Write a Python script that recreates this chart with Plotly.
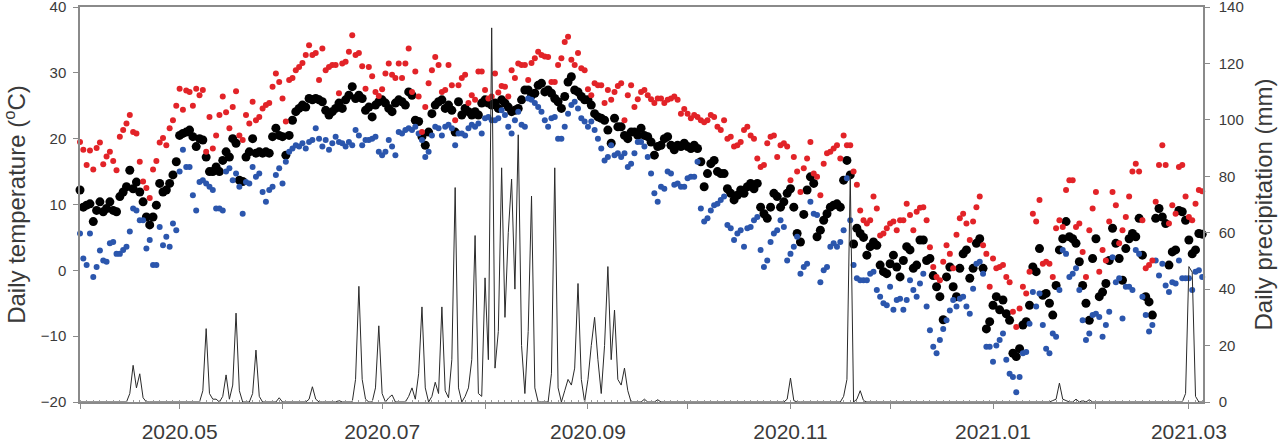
import plotly.graph_objects as go
import pandas as pd

# ---------------- data (daily, 2020-04-01 .. 2021-03-05) ----------------
start_date = "2020-04-01"
n_days = 339

tmax = [
    19.5, 18.3, 16.0, 18.2, 15.3, 18.6, 19.4, 16.1, 17.3, 18.0, 16.6, 15.2, 20.3, 21.3, 22.3, 23.6, 21.0, 20.8, 16.5, 13.5,
    12.5, 11.0, 15.3, 16.6, 19.4, 20.1, 19.0, 21.6, 22.8, 25.0, 27.6, 24.4, 27.3, 27.1, 25.0, 27.6, 26.6, 27.4, 18.0, 23.3,
    18.5, 20.5,
    23.6, 26.4, 24.0, 21.6, 24.8, 27.2, 20.5, 19.8, 23.6, 22.3, 25.6, 22.8, 23.3, 24.6, 25.1, 25.4, 27.9, 29.9, 28.6, 26.1,
    22.6, 28.9, 29.2, 30.4, 30.9, 31.5, 32.7, 34.2, 32.7, 33.0, 28.9, 33.7, 30.4, 30.9, 31.2, 31.2, 26.9, 31.4, 31.7, 33.2,
    35.7, 32.7,
    33.0, 31.0, 27.6, 30.9, 29.5, 27.1, 26.5, 27.5, 29.9, 31.4, 29.7, 29.2, 31.4, 29.2, 31.4, 33.7, 27.1, 30.2, 26.4, 21.0,
    24.8, 28.4, 30.4, 32.4, 31.2, 27.1, 27.4, 31.2, 28.1, 22.8, 28.1, 29.2, 29.7, 25.4, 26.6, 25.9, 30.2, 30.2, 27.4, 26.1,
    26.4, 29.9, 27.0,
    28.0, 27.9, 26.4, 30.4, 29.2, 31.4, 31.2, 31.2, 28.9, 31.5, 32.2, 33.2, 32.7, 32.5, 32.4, 28.6, 28.6, 31.2, 32.2, 34.7,
    35.5, 32.0, 31.2, 33.0, 30.7, 30.4, 27.5, 26.6, 28.4, 28.1, 28.1, 25.4, 27.4, 25.9, 27.1, 28.0, 28.4, 22.8, 26.6, 28.1,
    24.8, 26.0,
    27.1, 27.4, 26.6, 26.0, 25.4, 26.1, 26.1, 25.4, 25.9, 26.1, 26.4, 25.9, 23.8, 24.5, 23.8, 23.1, 23.6, 23.3, 22.8, 22.5,
    22.8, 23.6, 23.3, 21.8, 21.3, 22.8, 20.0, 20.3, 18.8, 19.0, 19.5, 21.3, 21.8, 20.5, 20.0, 17.0, 15.7, 16.0, 19.3, 20.3,
    20.5, 17.2, 19.0,
    19.3, 18.8, 13.7, 17.2, 15.0, 11.9, 15.5, 17.0, 19.5, 14.7, 14.2, 11.4, 16.2, 17.8, 18.0, 18.5, 19.0, 17.0, 20.5, 19.0,
    19.0, 15.0, 13.0, 9.1, 7.6, 7.1, 7.6, 11.2, 9.4, 5.3, 5.6, 6.4, 7.1, 7.4, 6.1, 7.6, 7.6, 10.1, 8.4, 6.1,
    8.9, 9.5,
    9.6, 7.6, 3.5, 0.5, -1.0, -1.5, 1.3, 3.8, 2.5, 0.3, 5.4, 7.9, 8.6, 7.1, 4.6, 7.4, 9.6, 11.2, 3.8, 2.5,
    -2.5, 1.8, 0.3, 0.5, 0.8, -1.0, -1.8, -6.3, -8.6, -5.8, -2.5, -3.5, -0.2, 8.6, 7.4, 10.7, 1.0, 1.3, 1.0, -1.0,
    6.4, 7.6,
    6.6, 12.2, 13.7, 13.7, 6.6, 7.1, 2.8, -1.0, 6.1, 9.4, 11.9, -0.2, 3.1, 1.5, 7.4, 11.9, 9.9, 4.1, 6.1, 8.1,
    11.2, 15.0, 16.2, 15.0, 7.6, 0.3, 0.8, 1.5, 10.4, 16.0, 19.0, 16.0, 7.1, 9.9, 8.6, 15.7, 16.0, 11.2, 8.1, 7.6,
    10.1, 12.2, 12.0,
]

tmean = [
    12.2, 9.6, 9.9, 10.1, 7.4, 9.1, 10.4, 8.9, 9.4, 10.4, 9.1, 8.9, 11.2, 11.9, 12.7, 15.2, 12.4, 13.4, 11.9, 10.4,
    8.1, 6.9, 8.1, 9.9, 13.2, 11.9, 12.2, 13.2, 14.5, 16.5, 20.5, 20.8, 21.0, 21.3, 20.3, 18.8, 20.0, 19.8, 17.2, 15.0,
    15.0, 15.7,
    15.0, 16.7, 18.0, 17.2, 20.0, 19.3, 13.7, 13.5, 17.2, 18.0, 20.0, 17.8, 18.0, 17.8, 18.0, 17.8, 20.3, 21.6, 20.5, 20.3,
    17.5, 20.5, 22.8, 24.1, 24.6, 25.1, 24.8, 26.1, 25.9, 26.1, 25.9, 25.6, 24.3, 23.6, 24.1, 24.6, 25.4, 24.6, 25.9, 26.6,
    27.9, 26.1,
    26.6, 26.1, 24.3, 24.8, 23.3, 25.1, 25.6, 25.9, 25.4, 24.6, 24.1, 25.4, 25.9, 25.6, 25.1, 27.1, 26.6, 22.8, 22.6, 20.3,
    19.0, 21.0, 23.8, 25.1, 25.6, 25.9, 24.6, 25.1, 24.3, 21.0, 25.6, 23.6, 24.6, 24.1, 23.6, 24.1, 23.6, 25.4, 25.9, 25.4,
    25.1, 25.4, 24.6,
    25.9, 25.4, 24.8, 24.1, 24.3, 24.6, 25.9, 27.4, 27.4, 26.6, 26.9, 28.1, 28.4, 27.1, 27.4, 26.9, 26.1, 25.6, 24.6, 26.4,
    28.6, 29.4, 27.4, 27.1, 26.4, 25.9, 25.9, 25.1, 23.8, 23.3, 23.1, 22.8, 21.3, 19.3, 23.1, 21.8, 21.8, 20.5, 20.0, 21.0,
    21.0, 20.5,
    21.6, 20.5, 20.3, 19.5, 17.5, 18.8, 19.0, 20.0, 20.3, 19.0, 18.3, 19.0, 18.8, 19.3, 18.8, 18.5, 19.0, 18.5, 16.5, 12.7,
    14.7, 16.2, 16.7, 15.0, 14.7, 14.7, 12.4, 11.7, 10.7, 11.4, 12.2, 11.7, 12.7, 13.2, 12.4, 13.2, 9.6, 8.6, 7.9, 9.6,
    11.7, 11.2, 9.6,
    10.4, 11.7, 12.4, 9.6, 5.6, 4.3, 8.5, 12.2, 14.2, 13.2, 5.1, 6.1, 7.6, 8.6, 9.6, 9.9, 10.1, 9.6, 13.7, 16.7,
    14.5, 4.0, 6.4, 5.6, 5.0, 2.3, 3.6, 4.3, 3.8, 0.8, -0.2, -0.5, 1.0, 2.3, 0.5, -1.0, 1.5, 3.6, 3.1, 0.3,
    0.8, 4.6,
    4.6, 1.5, 1.8, -0.8, -2.5, -4.0, -7.5, -1.0, 0.5, -2.5, -4.0, 0.3, 2.5, 3.1, -1.2, 0.3, 4.1, 4.8, 0.3, -8.9,
    -7.8, -5.3, -4.0, -6.0, -4.5, -6.6, -7.6, -12.6, -13.1, -11.9, -8.3, -7.8, -5.3, 0.5, -0.2, 3.3, -3.8, -3.5, -5.0, -6.8,
    -2.3, 3.1,
    4.8, 7.4, 5.1, 4.8, 4.1, 1.3, -2.3, -5.0, -7.6, 1.8, 4.8, -4.0, -3.3, -2.0, 1.5, 6.4, 4.1, 1.8, -1.5, 3.3,
    4.8, 5.6, 5.1, 7.9, 2.3, -4.0, -4.8, -6.8, 7.9, 9.4, 8.1, 7.1, 0.8, 2.8, 3.1, 9.1, 8.9, 7.6, 4.6, 2.5,
    3.1, 5.6, 5.5,
]

tmin = [
    5.6, 1.8, 0.8, 5.6, -1.0, 0.5, 3.0, 1.5, 1.3, 4.1, 4.3, 2.5, 2.5, 3.1, 3.6, 5.9, 9.4, 9.1, 7.6, 7.6,
    3.3, 4.6, 0.8, 0.8, 6.6, 3.8, 5.1, 3.6, 7.1, 6.1, 15.0, 18.3, 15.7, 15.7, 11.4, 9.1, 13.4, 13.7, 13.2, 12.7,
    12.2, 9.4,
    9.4, 9.1, 15.0, 15.5, 13.7, 14.7, 12.7, 8.6, 13.4, 13.2, 15.7, 14.2, 14.7, 11.9, 10.4, 12.2, 12.7, 14.5, 15.5, 13.2,
    16.5, 18.0, 18.5, 19.0, 18.8, 19.3, 18.5, 19.5, 19.8, 21.6, 20.0, 18.8, 19.8, 18.3, 19.3, 20.3, 19.5, 19.3, 18.8, 19.5,
    19.0, 21.3,
    20.5, 19.0, 19.8, 19.8, 20.0, 20.3, 18.0, 17.5, 18.0, 19.8, 18.8, 17.5, 21.0, 20.8, 21.3, 21.6, 21.3, 21.8, 20.8, 19.8,
    17.2, 18.0, 20.5, 21.8, 21.6, 20.5, 21.8, 22.1, 21.6, 19.0, 20.8, 20.8, 20.5, 21.6, 22.1, 21.8, 22.3, 20.8, 23.1, 23.3,
    22.8, 22.8, 23.1,
    24.3, 23.6, 21.8, 20.8, 22.8, 24.1, 22.1, 21.8, 26.1, 25.9, 25.4, 24.8, 24.1, 22.8, 21.8, 23.1, 23.3, 20.0, 20.0, 21.8,
    23.8, 25.1, 25.6, 24.6, 23.1, 22.6, 21.8, 22.6, 21.3, 20.0, 18.5, 16.7, 17.2, 19.0, 17.5, 17.8, 17.2, 17.8, 15.7, 16.2,
    17.8, 19.5,
    19.5, 18.8, 17.2, 14.7, 11.7, 10.4, 12.7, 12.4, 15.0, 14.7, 13.0, 13.2, 12.7, 12.7, 14.0, 14.2, 14.2, 16.5, 9.4, 7.4,
    7.9, 9.1, 9.9, 10.1, 10.7, 11.2, 6.9, 6.4, 4.6, 5.6, 6.1, 3.6, 6.4, 6.6, 7.6, 8.1, 3.1, 0.5, 1.5, 4.3,
    5.6, 6.1, 7.6,
    6.6, 1.5, 2.5, 3.6, 5.1, -0.5, 0.5, 1.0, 10.4, 8.6, 8.4, -1.8, 0.0, 0.5, 3.6, 4.1, 3.6, 4.3, 6.1, 14.0,
    7.6, 0.8, -1.2, -1.5, -1.5, -1.5, -0.5, -0.2, -3.0, -4.0, -5.0, -5.3, -2.5, -6.0, -4.5, -4.3, -6.0, -4.5, -1.5, -3.0,
    -4.0, -2.0,
    -0.5, -5.5, -9.1, -11.6, -12.6, -10.6, -8.9, -7.6, -6.1, -4.5, -5.5, -4.3, -4.0, -5.5, -6.6, -2.8, 1.0, 1.3, -0.5, -11.6,
    -11.6, -13.9, -11.4, -10.6, -9.6, -13.6, -15.7, -16.2, -18.5, -16.2, -12.6, -12.4, -8.1, -3.3, -5.5, -3.5, -8.3, -11.9, -12.6, -9.6,
    -10.1, -3.0,
    3.1, 2.5, -1.0, -0.5, 0.3, -3.0, -7.6, -10.6, -9.6, -6.8, -6.6, -7.1, -10.1, -8.3, -6.3, 2.0, -1.8, -1.2, -7.3, -2.5,
    -2.5, -3.0, 3.1, 2.5, -4.0, -6.8, -9.3, -8.3, 1.5, -0.8, 1.0, -2.3, -3.3, -1.8, -2.0, 1.5, -1.2, -1.2, -1.2, -3.0,
    -0.2, 0.0, -1.0,
]

precip = [
    # Apr (d0-29)
    0, 0, 0, 0, 0, 0, 0, 0, 0, 0, 0, 0, 0, 0, 0, 3, 13, 5, 10, 1.5, 0, 0, 0, 0, 0, 0, 0, 0, 0, 0,
    # May (d30-60)
    0, 0, 0, 0, 0, 0, 0, 4, 26, 3, 1, 1, 0, 2, 9.6, 1, 6, 31.5, 4, 0, 0, 0, 3, 18.4, 2, 0, 0, 0, 0, 0, 1.5,
    # Jun (d61-90)
    0, 0, 0, 0, 0, 0, 0, 0, 1, 5.4, 1, 0, 0, 0, 0, 0, 0, 0.5, 0, 0, 0, 0, 8, 41, 8, 1, 0, 0, 5, 27,
    # Jul (d91-121)
    3, 0, 1.5, 2.5, 0, 0, 0, 0, 2, 5, 1, 10, 33.7, 5, 0, 2, 7, 3, 33.7, 4, 1.5, 15, 76, 5, 0, 2, 5, 15, 59, 3, 2,
    # Aug (d122-152)
    44, 15, 132.6, 12, 25, 83, 30, 60, 79, 40, 94.7, 20, 3, 25, 73, 5, 0, 0, 0, 0, 10, 83, 5, 0, 4, 8, 6, 12, 42, 8, 0,
    # Sep (d153-182)
    8, 20, 30, 15, 3, 20, 48, 15, 32.6, 8, 6, 12, 4, 0, 0, 0, 0, 1, 0, 0, 0, 0.8, 0, 0, 0, 0, 0, 0, 0, 0,
    # Oct (d183-213)
    0, 0, 0, 0, 0, 0, 0, 0, 0, 0, 0, 0, 0, 0, 0, 0, 0, 0, 0, 0, 0, 0, 0, 0, 0, 0, 0, 0, 0, 0, 1,
    # Nov (d214-243)
    8.5, 0.5, 0, 0, 0, 0, 0, 0, 0, 0, 0, 0, 0, 0, 0, 0, 2, 8, 80, 0, 1, 4, 0.5, 0, 0, 0, 0, 0, 0, 0,
    # Dec (d244-274)
    0, 0, 0, 0, 0, 0, 0, 0, 0, 0, 0, 0, 0, 0, 0, 0, 0, 0, 0, 0, 0, 0, 0, 0, 0, 0, 0, 0, 0, 0, 0,
    # Jan (d275-305)
    0, 0, 0, 0, 0, 0, 0, 0, 0, 0, 0, 0, 0, 0, 0, 0, 0, 0, 0.5, 1, 6.7, 1, 0.5, 0, 0, 1, 0, 0.5, 0, 0.8, 0,
    # Feb (d306-333)
    0, 0, 0, 0, 0, 0, 0, 0, 0, 0, 0, 0, 0, 0, 0, 0, 0, 0, 0, 0, 0, 0, 0, 0, 0, 0, 0, 3,
    # Mar (d334-338)
    48, 46, 2, 0, 0,
]

month_ticks = ["2020-04-01", "2020-05-01", "2020-06-01", "2020-07-01", "2020-08-01", "2020-09-01",
               "2020-10-01", "2020-11-01", "2020-12-01", "2021-01-01", "2021-02-01", "2021-03-01"]
month_labels = ["", "2020.05", "", "2020.07", "", "2020.09", "", "2020.11", "", "2021.01", "", "2021.03"]

assert len(tmax) == n_days and len(tmean) == n_days and len(tmin) == n_days and len(precip) == n_days

dates = pd.date_range(start_date, periods=n_days, freq="D")

FONT = "Liberation Sans, Arial, sans-serif"
AX = "#8a8a8a"
TXT = "#3a3a3a"

fig = go.Figure()
fig.add_trace(go.Scatter(x=dates, y=tmean, mode="markers", name="Mean",
                         marker=dict(color="#000000", size=9), cliponaxis=False))
fig.add_trace(go.Scatter(x=dates, y=tmin, mode="markers", name="Min",
                         marker=dict(color="#2b56ad", size=6), cliponaxis=False))
fig.add_trace(go.Scatter(x=dates, y=tmax, mode="markers", name="Max",
                         marker=dict(color="#e22328", size=6), cliponaxis=False))
fig.add_trace(go.Scatter(x=dates, y=precip, mode="lines", name="Precipitation", yaxis="y2",
                         line=dict(color="#2a2a2a", width=1), cliponaxis=False))

fig.update_layout(
    width=1284, height=445,
    margin=dict(l=80, r=81, t=7, b=43, autoexpand=False),
    paper_bgcolor="white", plot_bgcolor="white",
    showlegend=False,
    font=dict(family=FONT, color=TXT),
    xaxis=dict(
        type="date", range=["2020-04-01", "2021-03-05 06:00"],
        tickmode="array", tickvals=month_ticks, ticktext=month_labels,
        ticks="outside", ticklen=5, tickwidth=1, tickcolor=AX,
        minor=dict(dtick=2 * 86400000, tick0="2020-04-01", ticks="inside", ticklen=2,
                   tickwidth=1, tickcolor="#9a9a9a", showgrid=False),
        showline=True, linecolor=AX, linewidth=1.5, mirror=True,
        showgrid=False, zeroline=False, automargin=False,
        tickfont=dict(size=21, color=TXT, family=FONT),
        ticklabelstandoff=5, ticklabeloverflow="allow",
    ),
    yaxis=dict(
        range=[-20, 40], dtick=10, tick0=-20,
        ticks="outside", ticklen=5, tickwidth=1, tickcolor=AX,
        showline=True, linecolor=AX, linewidth=1.5,
        showgrid=False, zeroline=False, automargin=False,
        tickfont=dict(size=15, color=TXT, family=FONT),
        ticklabelstandoff=4, ticklabeloverflow="allow",
        title=dict(text="Daily temperature (<sup>o</sup>C)", font=dict(size=24, color=TXT, family=FONT), standoff=10),
    ),
    yaxis2=dict(
        overlaying="y", side="right",
        range=[0, 140], dtick=20, tick0=0,
        ticks="outside", ticklen=5, tickwidth=1, tickcolor=AX,
        showline=True, linecolor=AX, linewidth=1.5,
        showgrid=False, zeroline=False, automargin=False,
        tickfont=dict(size=15, color=TXT, family=FONT),
        ticklabelstandoff=6, ticklabeloverflow="allow",
        title=dict(text="Daily precipitation (mm)", font=dict(size=24, color=TXT, family=FONT), standoff=12),
    ),
)

fig.write_html("out.html")
